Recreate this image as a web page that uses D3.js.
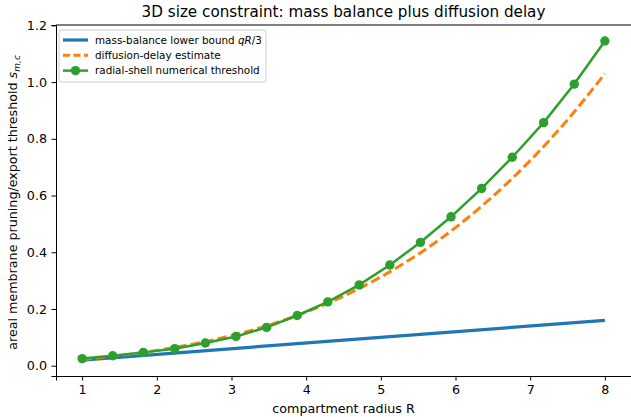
<!DOCTYPE html>
<html>
<head>
<meta charset="utf-8">
<script src="https://cdn.jsdelivr.net/npm/d3@7"></script>
<style>
  body { margin: 0; background: #fff; }
  svg { font-family: "DejaVu Sans", sans-serif; }
</style>
</head>
<body>
<div id="chart"></div>
<script>
const width = 631;
const height = 417;
const margin = { top: 25, right: 0, bottom: 41, left: 56 };

// Data
const radiusGrid = [1, 1.41, 1.82, 2.24, 2.65, 3.06, 3.47, 3.88, 4.29, 4.71, 5.12, 5.53, 5.94, 6.35, 6.76, 7.18, 7.59, 8];
const shellThreshold = [0.025, 0.035, 0.047, 0.06, 0.08, 0.103, 0.135, 0.177, 0.225, 0.285, 0.355, 0.435, 0.525, 0.625, 0.735, 0.857, 0.993, 1.145];

const boundRadius = [1, 8];
const massBound = [0.02, 0.16];

const delayRadius = [1, 1.5, 2, 2.5, 3, 3.5, 4, 4.5, 5, 5.5, 6, 6.5, 7, 7.5, 8];
const delayEstimate = [0.022, 0.036, 0.054, 0.077, 0.106, 0.143, 0.189, 0.245, 0.313, 0.393, 0.487, 0.597, 0.723, 0.867, 1.03];

const xTicks = [1, 2, 3, 4, 5, 6, 7, 8];
const yTicks = [0, 0.2, 0.4, 0.6, 0.8, 1.0, 1.2];

const colors = { blue: "#1f77b4", orange: "#ff7f0e", green: "#2ca02c" };
const fontSize = 12.7;

const svg = d3.select("#chart")
  .append("svg")
  .attr("width", width)
  .attr("height", height);

const x = d3.scaleLinear().domain([0.65, 8.35]).range([margin.left, width - margin.right]);
const y = d3.scaleLinear().domain([-0.0363, 1.2013]).range([height - margin.bottom, margin.top]);

const line = d3.line().x((d) => x(d[0])).y((d) => y(d[1]));

// Axes
const xAxis = svg.append("g")
  .attr("transform", `translate(0,${height - margin.bottom})`)
  .call(d3.axisBottom(x).tickValues(xTicks).tickFormat(d3.format("d")).tickSizeOuter(0).tickSize(4.5).tickPadding(4.5));

const yAxis = svg.append("g")
  .attr("transform", `translate(${margin.left},0)`)
  .call(d3.axisLeft(y).tickValues(yTicks).tickFormat(d3.format(".1f")).tickSizeOuter(0).tickSize(4.5).tickPadding(4.5));

[xAxis, yAxis].forEach((g) => {
  g.selectAll("text").attr("font-size", fontSize).attr("fill", "#000").attr("font-family", "DejaVu Sans");
  g.selectAll("line").attr("stroke", "#000").attr("stroke-width", 1);
  g.select(".domain").attr("stroke", "#000").attr("stroke-width", 1);
});

// Top spine
svg.append("line")
  .attr("x1", margin.left).attr("x2", width - margin.right)
  .attr("y1", margin.top).attr("y2", margin.top)
  .attr("stroke", "#000").attr("stroke-width", 1);

// Series
const plot = svg.append("g");

plot.append("path")
  .datum(d3.zip(boundRadius, massBound))
  .attr("d", line)
  .attr("fill", "none")
  .attr("stroke", colors.blue)
  .attr("stroke-width", 3.2);

plot.append("path")
  .datum(d3.zip(delayRadius, delayEstimate))
  .attr("d", line.curve(d3.curveMonotoneX))
  .attr("fill", "none")
  .attr("stroke", colors.orange)
  .attr("stroke-width", 3)
  .attr("stroke-dasharray", "9.5 4.2");

line.curve(d3.curveLinear);

const shellData = d3.zip(radiusGrid, shellThreshold);
plot.append("path")
  .datum(shellData)
  .attr("d", line)
  .attr("fill", "none")
  .attr("stroke", colors.green)
  .attr("stroke-width", 2.5);

plot.selectAll("circle")
  .data(shellData)
  .join("circle")
  .attr("cx", (d) => x(d[0]))
  .attr("cy", (d) => y(d[1]))
  .attr("r", 4.7)
  .attr("fill", colors.green);

// Title & labels
svg.append("text")
  .attr("x", (margin.left + width - margin.right) / 2)
  .attr("y", 17)
  .attr("text-anchor", "middle")
  .attr("font-size", 15.2)
  .text("3D size constraint: mass balance plus diffusion delay");

svg.append("text")
  .attr("x", (margin.left + width - margin.right) / 2)
  .attr("y", 413)
  .attr("text-anchor", "middle")
  .attr("font-size", fontSize)
  .text("compartment radius R");

const ylab = svg.append("text")
  .attr("transform", `translate(17,${(margin.top + height - margin.bottom) / 2 + 2}) rotate(-90)`)
  .attr("text-anchor", "middle")
  .attr("font-size", fontSize);
ylab.append("tspan").text("areal membrane pruning/export threshold ");
ylab.append("tspan").attr("font-style", "italic").text("s");
ylab.append("tspan").attr("font-style", "italic").attr("font-size", 9).attr("dy", 3).text("m,c");

// Legend
const legendItems = [
  { label: "mass-balance lower bound ", math: "qR", tail: "/3", color: colors.blue, dash: null, width: 3.2, marker: false },
  { label: "diffusion-delay estimate", color: colors.orange, dash: "7 3.5", width: 3, marker: false },
  { label: "radial-shell numerical threshold", color: colors.green, dash: null, width: 2.5, marker: true }
];

const legend = svg.append("g").attr("transform", "translate(59,30)");
legend.append("rect")
  .attr("width", 207).attr("height", 52).attr("rx", 2.5)
  .attr("fill", "#fff").attr("fill-opacity", 0.8)
  .attr("stroke", "#ccc").attr("stroke-width", 1);

const rows = legend.selectAll("g.row")
  .data(legendItems)
  .join("g")
  .attr("class", "row")
  .attr("transform", (d, i) => `translate(4,${10 + i * 15.3})`);

rows.append("line")
  .attr("x1", 0).attr("x2", 25)
  .attr("stroke", (d) => d.color)
  .attr("stroke-width", (d) => d.width)
  .attr("stroke-dasharray", (d) => d.dash);

rows.filter((d) => d.marker)
  .append("circle")
  .attr("cx", 12.5).attr("r", 4.7)
  .attr("fill", (d) => d.color);

const labels = rows.append("text")
  .attr("x", 32).attr("dy", "0.35em")
  .attr("font-size", 10.4);
labels.append("tspan").text((d) => d.label);
labels.filter((d) => d.math).append("tspan").attr("font-style", "italic").text((d) => d.math);
labels.filter((d) => d.tail).append("tspan").text((d) => d.tail);
</script>
</body>
</html>
